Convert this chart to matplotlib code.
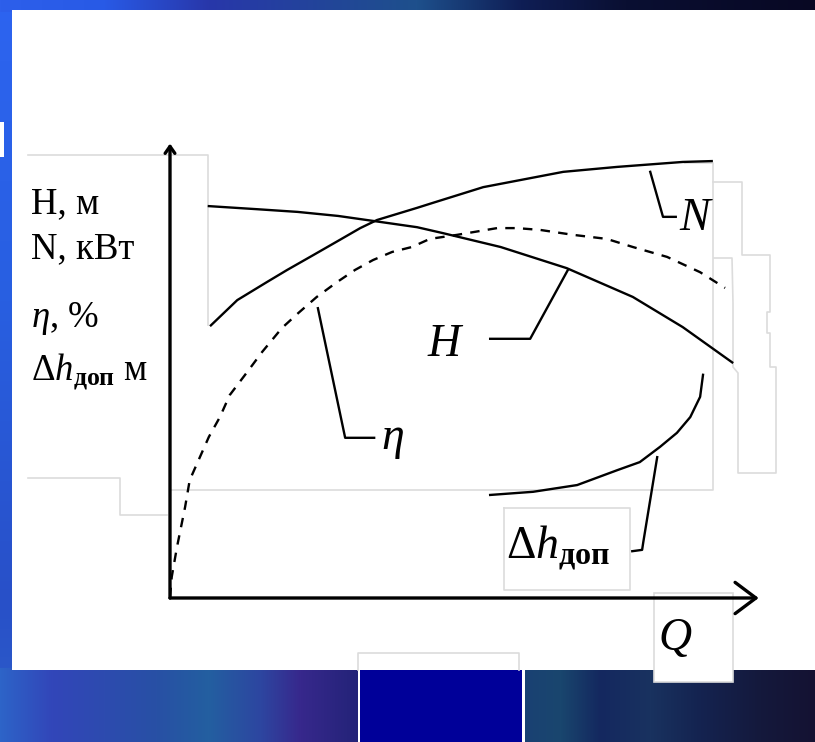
import numpy as np
import matplotlib
matplotlib.use("Agg")
import matplotlib.pyplot as plt
from matplotlib.patches import Rectangle

plt.rcParams['font.family'] = ['Liberation Serif', 'DejaVu Serif']
plt.rcParams['mathtext.fontset'] = 'custom'
plt.rcParams['mathtext.rm'] = 'Liberation Serif'
plt.rcParams['mathtext.it'] = 'Liberation Serif:italic'
plt.rcParams['mathtext.bf'] = 'Liberation Serif:bold'

# ---- pump characteristic curves (Q in % of axis length, values in % of axis height)
q_head = [6.5, 15, 22, 29, 35, 42.6, 47, 57, 68.4, 79.8, 88.4, 97.1]
head = [87.1, 86.4, 85.8, 84.9, 83.8, 82.4, 81.1, 78.0, 73.3, 66.9, 60.2, 52.2]

q_power = [6.9, 11.6, 16.7, 20.2, 24.7, 29.3, 32.8, 35.7, 42.6, 45.3, 54.0,
           67.8, 77.1, 88.4, 93.6]
power = [60.4, 66.2, 70.2, 72.9, 76.2, 79.6, 82.2, 84.0, 86.7, 87.8, 91.3,
         94.7, 95.8, 96.9, 97.1]

q_eff = [0, 0.3, 1.2, 2.6, 3.4, 6.7, 8.6, 10.3, 13.3, 15.9, 19.3, 22.1, 25.3,
         28.8, 31.9, 35.0, 38.3, 41.7, 44.8, 49.5, 56.4, 59.8, 63.8, 69.5,
         75.3, 79.8, 85.7, 91.4, 95.7]
eff = [0.2, 4.7, 11.3, 20.2, 26.2, 35.8, 40.2, 45.1, 50.2, 54.7, 60.0, 63.3,
       66.9, 70.2, 72.9, 75.1, 76.9, 78.0, 79.8, 80.7, 82.2, 82.2, 81.8, 80.7,
       79.8, 78.0, 75.8, 72.4, 68.9]

q_npsh = [55.2, 62.6, 70.2, 77.1, 81.0, 84.5, 87.4, 89.7, 91.4, 91.9]
npsh = [22.9, 23.6, 25.1, 28.4, 30.2, 33.6, 36.7, 40.2, 44.7, 49.6]

# leader lines from curve labels to their curves
lead_head = ([55.2, 62.1, 68.6], [57.6, 57.6, 72.9])
lead_power = ([82.8, 85.0, 87.2], [94.7, 84.7, 84.7])
lead_eff = ([25.5, 30.2, 35.2], [64.4, 35.6, 35.6])
lead_npsh = ([84.0, 81.6, 81.4, 79.7], [31.3, 12.4, 10.7, 10.4])

axis_labels = ["H, м", "N, кВт", r"$\eta$, %", r"$\Delta h_{\mathbf{доп}}$ м"]

W, Hh = 815, 742
fig = plt.figure(figsize=(W / 100, Hh / 100), dpi=100)

# ---- slide background (pixel coordinates)
bg = fig.add_axes([0, 0, 1, 1])
bg.set_xlim(0, W)
bg.set_ylim(Hh, 0)
bg.axis('off')

img = np.zeros((Hh, W, 3))
ys = np.arange(Hh)
xs = np.arange(W)
left_y = [0, 300, 600, 742]
left_c = np.array([(45, 100, 240), (40, 95, 225), (40, 80, 200), (45, 95, 200)]) / 255
for k in range(3):
    img[:, :, k] = np.interp(ys, left_y, left_c[:, k])[:, None]
top_x = [0, 104, 208, 416, 520, 625, 815]
top_c = np.array([(45, 95, 235), (40, 90, 230), (40, 55, 170), (30, 80, 140),
                  (15, 30, 85), (10, 15, 50), (8, 8, 35)]) / 255
for k in range(3):
    img[:12, :, k] = np.interp(xs, top_x, top_c[:, k])[None, :]
bot_x = [0, 52, 104, 156, 208, 260, 300, 358, 525, 560, 600, 650, 700, 760, 815]
bot_c = np.array([(45, 100, 200), (50, 70, 185), (45, 75, 175), (40, 80, 165),
                  (35, 95, 160), (45, 70, 160), (55, 40, 140), (35, 35, 120),
                  (25, 65, 115), (25, 70, 110), (20, 40, 95), (25, 50, 95),
                  (20, 35, 80), (20, 25, 60), (20, 18, 50)]) / 255
for k in range(3):
    img[668:, :, k] = np.interp(xs, bot_x, bot_c[:, k])[None, :]
bg.imshow(img, extent=(0, W, Hh, 0), aspect='auto', interpolation='bilinear', zorder=0)

bg.add_patch(Rectangle((12, 10), W - 12, 660, facecolor='white', edgecolor='none', zorder=1))
bg.add_patch(Rectangle((0, 122), 4, 35, facecolor='white', edgecolor='none', zorder=1))
bg.add_patch(Rectangle((358, 670), 167, 72, facecolor='white', edgecolor='none', zorder=1))
bg.add_patch(Rectangle((360, 670), 162, 72, facecolor='#000099', edgecolor='none', zorder=2))

# faint outlines of the scanned text boxes
gray = '#dcdcdc'
outlines = [
    ([28, 208, 208], [155, 155, 325]),
    ([28, 120, 120, 167], [478, 478, 515, 515]),
    ([170, 713, 713, 685], [490, 490, 163, 163]),
    ([713, 742, 742, 770, 770, 767, 767, 770, 770, 776, 776, 738, 738, 733, 733, 732, 714],
     [182, 182, 255, 255, 312, 312, 333, 333, 367, 367, 473, 473, 373, 367, 303, 258, 258]),
    ([504, 630, 630, 504, 504], [508, 508, 590, 590, 508]),
    ([358, 358, 519, 519], [670, 653, 653, 670]),
]
for xo, yo in outlines:
    bg.plot(xo, yo, color=gray, lw=1.2, zorder=2)
bg.add_patch(Rectangle((654, 593), 79, 89, facecolor='white', edgecolor=gray, lw=1.2, zorder=3))

label_base = [213, 258, 327, 380]
for txt, yb in zip(axis_labels, label_base):
    bg.text(31, yb, txt, fontsize=26.5, ha='left', va='baseline', color='black', zorder=5)

# ---- chart axes
ax = fig.add_axes([170 / W, (Hh - 598) / Hh, 580 / W, 450 / Hh])
ax.set_xlim(0, 100)
ax.set_ylim(0, 100)
ax.axis('off')
ax.patch.set_alpha(0)

lw = 1.7
ax.plot(q_head, head, color='black', lw=lw, solid_capstyle='butt')
ax.plot(q_power, power, color='black', lw=lw, solid_capstyle='butt')
ax.plot(q_eff, eff, color='black', lw=lw, dashes=(4, 3.5))
ax.plot(q_npsh, npsh, color='black', lw=lw)

for xl, yl in (lead_head, lead_power, lead_eff, lead_npsh):
    ax.plot(xl, yl, color='black', lw=lw, clip_on=False)

lab_fs = 33
ax.text(47.2, 53.8, 'H', fontsize=lab_fs, style='italic', ha='center', va='baseline')
ax.text(90.5, 81.8, 'N', fontsize=lab_fs, style='italic', ha='center', va='baseline')
ax.text(38.3, 33.1, r'$\eta$', fontsize=lab_fs, ha='center', va='baseline')
ax.text(58.0, 8.9, r'$\Delta h_{\mathbf{доп}}$', fontsize=lab_fs, ha='left', va='baseline')
ax.text(87.1, -11.6, 'Q', fontsize=lab_fs, style='italic', ha='center', va='baseline',
        clip_on=False, zorder=6)

# axes with arrows
ax.annotate('', xy=(101.5, 0), xytext=(0, 0), xycoords='data',
            arrowprops=dict(arrowstyle='->, head_length=0.6, head_width=0.45',
                            lw=2.4, color='black', mutation_scale=25,
                            shrinkA=0, shrinkB=0), annotation_clip=False)
ax.annotate('', xy=(0, 101), xytext=(0, 0), xycoords='data',
            arrowprops=dict(arrowstyle='->, head_length=0.5, head_width=0.35',
                            lw=2.4, color='black', mutation_scale=10,
                            shrinkA=0, shrinkB=0), annotation_clip=False)

fig.savefig('out.png', dpi=100)
